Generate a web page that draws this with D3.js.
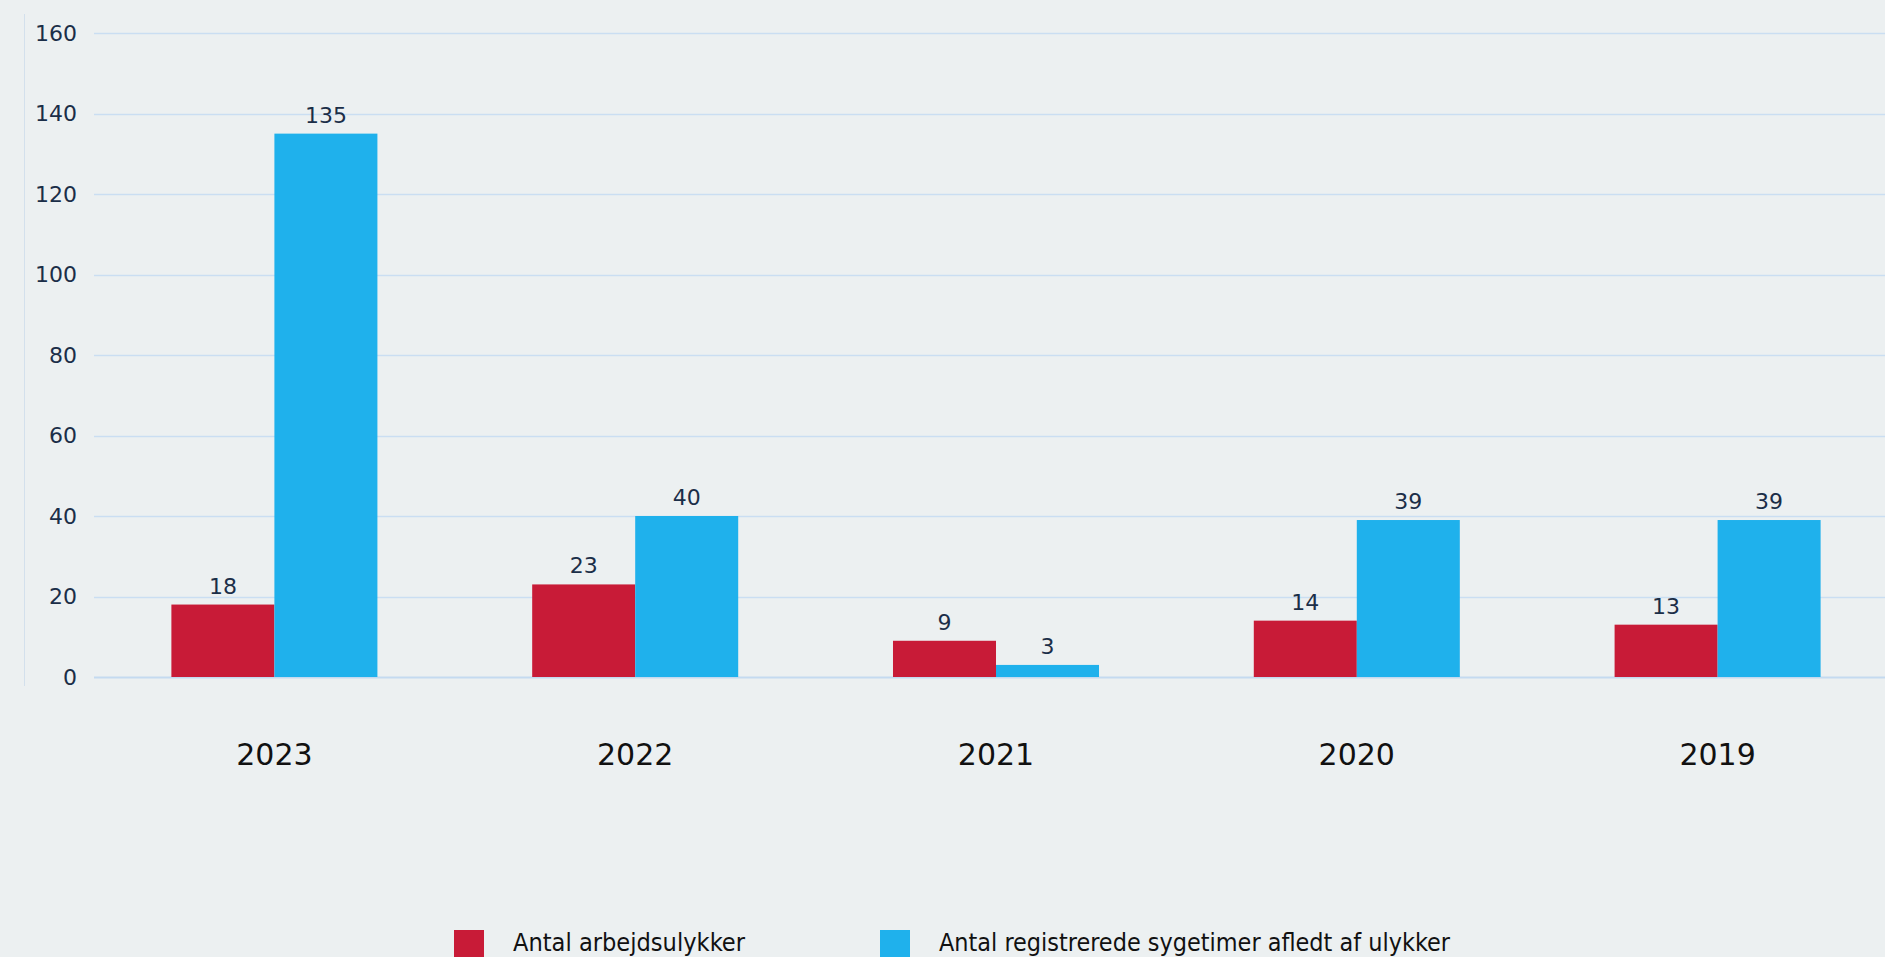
<!DOCTYPE html>
<html>
<head>
<meta charset="utf-8">
<script src="https://cdn.jsdelivr.net/npm/d3@7"></script>
<style>
    html, body { margin: 0; padding: 0; background: #ecf0f1; }
    svg { display: block; }
</style>
</head>
<body>
<svg id="chart" width="1885" height="957"></svg>
<script>
const years = ["2023", "2022", "2021", "2020", "2019"];
const ulykker = [18, 23, 9, 14, 13];
const sygetimer = [135, 40, 3, 39, 39];
const seriesNames = ["Antal arbejdsulykker", "Antal registrerede sygetimer afledt af ulykker"];
const seriesColors = ["#c81b37", "#1fb1ec"];
const yTicks = [0, 20, 40, 60, 80, 100, 120, 140, 160];

const svg = d3.select("#chart");
const W = 1885;

const x = d3.scaleBand()
    .domain(years)
    .range([94, 1898])
    .paddingInner(0.429)
    .paddingOuter(0.2145);

const xSub = d3.scaleBand()
    .domain([0, 1])
    .range([0, x.bandwidth()]);

const y = d3.scaleLinear()
    .domain([0, 160])
    .range([677, 33]);

// y axis line
svg.append("line")
    .attr("x1", 24.5).attr("x2", 24.5)
    .attr("y1", 14).attr("y2", 686)
    .attr("stroke", "#d3e0ec")
    .attr("stroke-width", 1);

// gridlines + tick labels
const grid = svg.append("g").attr("class", "grid");
grid.selectAll("line")
    .data(yTicks)
    .enter().append("line")
    .attr("x1", 94).attr("x2", W)
    .attr("y1", d => Math.round(y(d)) + 0.5)
    .attr("y2", d => Math.round(y(d)) + 0.5)
    .attr("stroke", d => d === 0 ? "#c4daf0" : "#cadef2")
    .attr("stroke-width", d => d === 0 ? 2 : 1.3);

grid.selectAll("text")
    .data(yTicks)
    .enter().append("text")
    .attr("x", 77)
    .attr("y", d => y(d))
    .attr("dy", "0.35em")
    .attr("text-anchor", "end")
    .attr("font-family", "DejaVu Sans")
    .attr("font-size", 22)
    .attr("fill", "#1b2e48")
    .text(d => d);

// bars
const rows = years.map((yr, i) => ({ year: yr, values: [ulykker[i], sygetimer[i]] }));

const groups = svg.append("g").attr("class", "bars")
    .selectAll("g")
    .data(rows)
    .enter().append("g")
    .attr("transform", d => `translate(${x(d.year)},0)`);

groups.selectAll("rect")
    .data(d => d.values.map((v, k) => ({ v, k })))
    .enter().append("rect")
    .attr("x", d => xSub(d.k))
    .attr("width", xSub.bandwidth())
    .attr("y", d => y(d.v))
    .attr("height", d => y(0) - y(d.v))
    .attr("fill", d => seriesColors[d.k]);

groups.selectAll("text.value")
    .data(d => d.values.map((v, k) => ({ v, k })))
    .enter().append("text")
    .attr("class", "value")
    .attr("x", d => xSub(d.k) + xSub.bandwidth() / 2)
    .attr("y", d => y(d.v) - 11)
    .attr("text-anchor", "middle")
    .attr("font-family", "DejaVu Sans")
    .attr("font-size", 22)
    .attr("fill", "#1b2e48")
    .text(d => d.v);

// x labels
svg.append("g").attr("class", "x-labels")
    .selectAll("text")
    .data(years)
    .enter().append("text")
    .attr("x", d => x(d) + x.bandwidth() / 2)
    .attr("y", 765)
    .attr("text-anchor", "middle")
    .attr("font-family", "DejaVu Sans")
    .attr("font-size", 30)
    .attr("fill", "#111")
    .text(d => d);

// legend
const legendX = [454, 880];
const legendW = [232, 511];
const legend = svg.append("g").attr("class", "legend")
    .selectAll("g")
    .data(seriesNames)
    .enter().append("g")
    .attr("transform", (d, i) => `translate(${legendX[i]},930)`);

legend.append("rect")
    .attr("width", 30).attr("height", 30)
    .attr("fill", (d, i) => seriesColors[i]);

legend.append("text")
    .attr("x", 59)
    .attr("y", 21)
    .attr("font-family", "DejaVu Sans Condensed, DejaVu Sans")
    .attr("font-size", 25)
    .attr("fill", "#111")
    .attr("textLength", (d, i) => legendW[i])
    .attr("lengthAdjust", "spacingAndGlyphs")
    .text(d => d);
</script>
</body>
</html>
